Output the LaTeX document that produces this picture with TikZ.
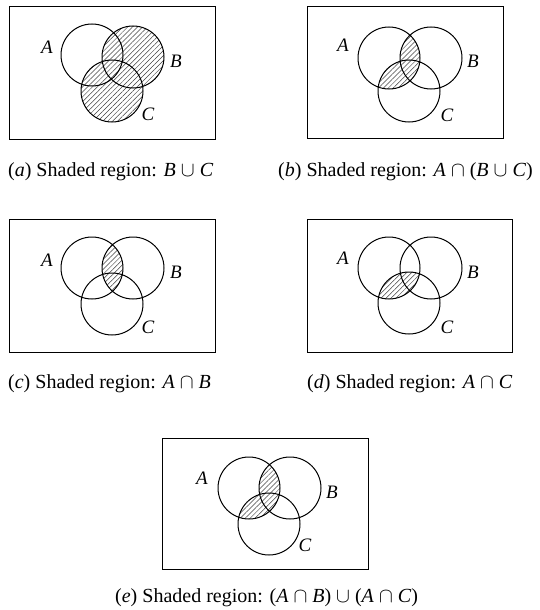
\documentclass[tikz,border=0pt]{standalone}
\usepackage{fontspec}
\setmainfont{Liberation Serif}
\usetikzlibrary{patterns.meta}
\begin{document}
\begin{tikzpicture}[x=1pt,y=-1pt,
  frame/.style={line width=1pt},
  setc/.style={line width=1pt},
  hatch/.style={pattern={Lines[angle=45,distance=3.5pt,line width=0.5pt]},pattern color=black!75},
  lbl/.style={font=\fontsize{19}{19}\selectfont\itshape, inner sep=0pt},
  capt/.style={font=\fontsize{20}{21}\selectfont, anchor=base west, inner sep=0pt}]
\useasboundingbox (0,0) rectangle (540,610);

% (a) B cup C
\draw[frame] (9,7) rectangle (215,139);
\fill[hatch] (133,57) circle[radius=31pt] (112,91) circle[radius=31pt];
\draw[setc] (92,55) circle[radius=31pt] (133,57) circle[radius=31pt] (112,91) circle[radius=31pt];
\node[lbl] (aA) at (47,47) {A};
\node[lbl] (aB) at (176,61) {B};
\node[lbl] (aC) at (148,114) {C};
\node[capt] (capa) at (8,176) {(\textit{a}) Shaded region: \textit{B} $\cup$ \textit{C}};

% (b) A cap (B cup C)
\draw[frame] (307,7) rectangle (503,138);
\begin{scope}
  \clip (389,58) circle[radius=31pt];
  \fill[hatch] (431,58) circle[radius=31pt] (409,91) circle[radius=31pt];
\end{scope}
\draw[setc] (389,58) circle[radius=31pt] (431,58) circle[radius=31pt] (409,91) circle[radius=31pt];
\node[lbl] (bA) at (343,45) {A};
\node[lbl] (bB) at (473,61) {B};
\node[lbl] (bC) at (447,115) {C};
\node[capt] (capb) at (278,176) {(\textit{b}) Shaded region: \textit{A} $\cap$ (\textit{B} $\cup$ \textit{C})};

% (c) A cap B
\draw[frame] (9,219) rectangle (215,352);
\begin{scope}
  \clip (92,268) circle[radius=31pt];
  \fill[hatch] (133,268) circle[radius=31pt];
\end{scope}
\draw[setc] (92,268) circle[radius=31pt] (133,268) circle[radius=31pt] (112,304) circle[radius=31pt];
\node[lbl] (cA) at (47,260) {A};
\node[lbl] (cB) at (176,272) {B};
\node[lbl] (cC) at (148,327) {C};
\node[capt] (capc) at (8,388) {(\textit{c}) Shaded region: \textit{A} $\cap$ \textit{B}};

% (d) A cap C
\draw[frame] (307,219) rectangle (512,352);
\begin{scope}
  \clip (389,268) circle[radius=31pt];
  \fill[hatch] (409,303) circle[radius=31pt];
\end{scope}
\draw[setc] (389,268) circle[radius=31pt] (431,268) circle[radius=31pt] (409,303) circle[radius=31pt];
\node[lbl] (dA) at (343,258) {A};
\node[lbl] (dB) at (473,272) {B};
\node[lbl] (dC) at (447,327) {C};
\node[capt] (capd) at (307,388) {(\textit{d}) Shaded region: \textit{A} $\cap$ \textit{C}};

% (e) (A cap B) cup (A cap C)
\draw[frame] (162,438) rectangle (368,569);
\begin{scope}
  \clip (249,488) circle[radius=31pt];
  \fill[hatch] (290,488) circle[radius=31pt] (269,524) circle[radius=31pt];
\end{scope}
\draw[setc] (249,488) circle[radius=31pt] (290,488) circle[radius=31pt] (269,524) circle[radius=31pt];
\node[lbl] (eA) at (202,478) {A};
\node[lbl] (eB) at (332,492) {B};
\node[lbl] (eC) at (305,545) {C};
\node[capt] (cape) at (115,602) {(\textit{e}) Shaded region: (\textit{A} $\cap$ \textit{B}) $\cup$ (\textit{A} $\cap$ \textit{C})};
\end{tikzpicture}
\end{document}
